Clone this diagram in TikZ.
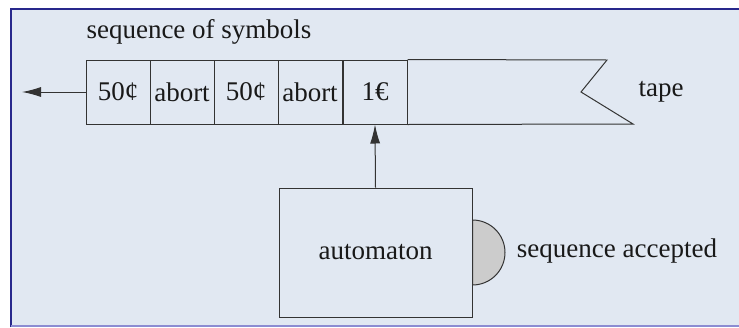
\documentclass[tikz,border=0pt]{standalone}
\usepackage{fontspec}
\setmainfont{Liberation Serif}
\usetikzlibrary{arrows.meta}
\definecolor{panelfill}{HTML}{E1E8F2}
\definecolor{paneledge}{HTML}{28288C}
\definecolor{panelfoot}{HTML}{8C8CD2}
\definecolor{inkline}{HTML}{333333}
\definecolor{lampfill}{HTML}{CCCCCC}
\begin{document}
\begin{tikzpicture}[x=1pt,y=-1pt,
  every node/.style={font=\rmfamily\fontsize{27}{31}\selectfont,text=black!90},
  ink/.style={draw=inkline,line width=1pt},
  cell/.style={ink,minimum width=64pt,minimum height=64pt,inner sep=0pt},
  box/.style={ink,minimum width=193pt,minimum height=129pt,inner sep=0pt},
  feed/.style={ink,-{Latex[length=19pt,width=10pt]}}]
\useasboundingbox (0,0) rectangle (739,327);
% panel
\fill[panelfill] (11,9) rectangle (739,327);
\draw[paneledge,line width=1.6pt] (11,327) -- (11,9) -- (739,9);
\draw[panelfoot,line width=1.2pt] (11,326) -- (739,326);
% tape
\node (title) at (199,32) {sequence of symbols};
\node[cell] (c1) at (118,92) {50¢};
\node[cell] (c2) at (182,92) {abort};
\node[cell] (c3) at (246,92) {50¢};
\node[cell] (c4) at (310,92) {abort};
\node[cell] (c5) at (375,92) {1€};
\draw[ink] (c5.north east) -- (607,60) -- (581,92) -- (633,124) -- (c5.south east);
\node (tape) at (661,92) {tape};
\coordinate (exit) at (22,92);
\draw[feed] (c1.west) -- (exit);
% automaton
\node[box] (auto) at (375.5,252.5) {automaton};
\draw[feed] (auto.north) -- (c5.south);
\draw[ink,fill=lampfill] ([yshift=32.5pt]auto.east) arc[start angle=90,end angle=-90,radius=32.5pt] -- cycle;
\node (acc) at (617,251) {sequence accepted};
\end{tikzpicture}
\end{document}
